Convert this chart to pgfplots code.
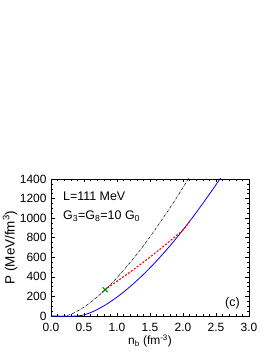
\documentclass[border=0pt]{standalone}
\usepackage{fontspec}
\setmainfont{Liberation Sans}
\usepackage{pgfplots}
\pgfplotsset{compat=1.18}
\definecolor{dgreen}{rgb}{0.0,0.55,0.0}
\begin{document}
\begin{tikzpicture}[x=1bp,y=1bp]
\path[use as bounding box] (0,0) rectangle (273,353);
\begin{axis}[
  at={(51bp,37bp)}, anchor=south west,
  scale only axis, width=198bp, height=137bp,
  xmin=0, xmax=3, ymin=0, ymax=1400,
  xtick={0,0.5,...,3}, ytick={0,200,...,1400},
  minor x tick num=4, minor y tick num=3,
  tick align=inside, tick pos=both,
  major tick length=3.5bp, minor tick length=2bp,
  /pgf/number format/assume math mode=true,
  x tick label style={inner sep=1bp, yshift=-5.6bp, /pgf/number format/.cd, fixed, fixed zerofill, precision=1},
  y tick label style={inner sep=1bp, xshift=-3.3bp, /pgf/number format/.cd, 1000 sep={}},
  ticklabel style={font=\fontsize{12}{14}\selectfont},
  xlabel={n\textsubscript{b} (fm\textsuperscript{-3})},
  ylabel={P (MeV/fm\textsuperscript{3})},
  xlabel style={font=\fontsize{12}{14}\selectfont, at={(axis description cs:0.5,0)}, anchor=base, yshift=-28.5bp, inner sep=0.5bp},
  ylabel style={font=\fontsize{13.5}{15}\selectfont, yshift=-2bp},
  axis line style={line width=0.7pt},
  every tick/.style={line width=0.5pt},
  clip=true,
]
\addplot[black, densely dash dot, line width=0.5pt, smooth] coordinates {
 (0,0) (0.2,0) (0.3,18) (0.4,50) (0.5,91) (0.6,140) (0.7,195) (0.82,268) (1.0,392) (1.27,605) (1.5,809) (1.8,1103) (1.95,1259) (2.08,1400) (2.12,1445)};
\addplot[blue, line width=0.8pt, smooth] coordinates {
 (0,0) (0.4,0) (0.6,35) (0.8,103) (1.0,193) (1.2,301) (1.4,425) (1.6,563) (1.8,715) (2.0,880) (2.2,1057) (2.4,1245) (2.56,1400) (2.6,1439)};
\addplot[red, dash pattern=on 2bp off 1.6bp, line width=1.1pt, smooth] coordinates {
 (0.77,240) (0.82,268) (1.0,355) (1.2,450) (1.4,550) (1.6,655) (1.8,765) (2.0,880) (2.1,966)};
\addplot[only marks, mark=x, mark size=3.5pt, dgreen, line width=1.1pt] coordinates {(0.82,268)};
\node[anchor=west, font=\fontsize{12.5}{14}\selectfont] at (axis cs:0.13,1220) {L=111 MeV};
\node[anchor=west, font=\fontsize{12.5}{14}\selectfont] at (axis cs:0.13,1020) {G\textsubscript{3}=G\textsubscript{8}=10 G\textsubscript{0}};
\node[font=\fontsize{12.5}{14}\selectfont] at (axis cs:2.75,130) {(c)};
\end{axis}
\end{tikzpicture}
\end{document}
